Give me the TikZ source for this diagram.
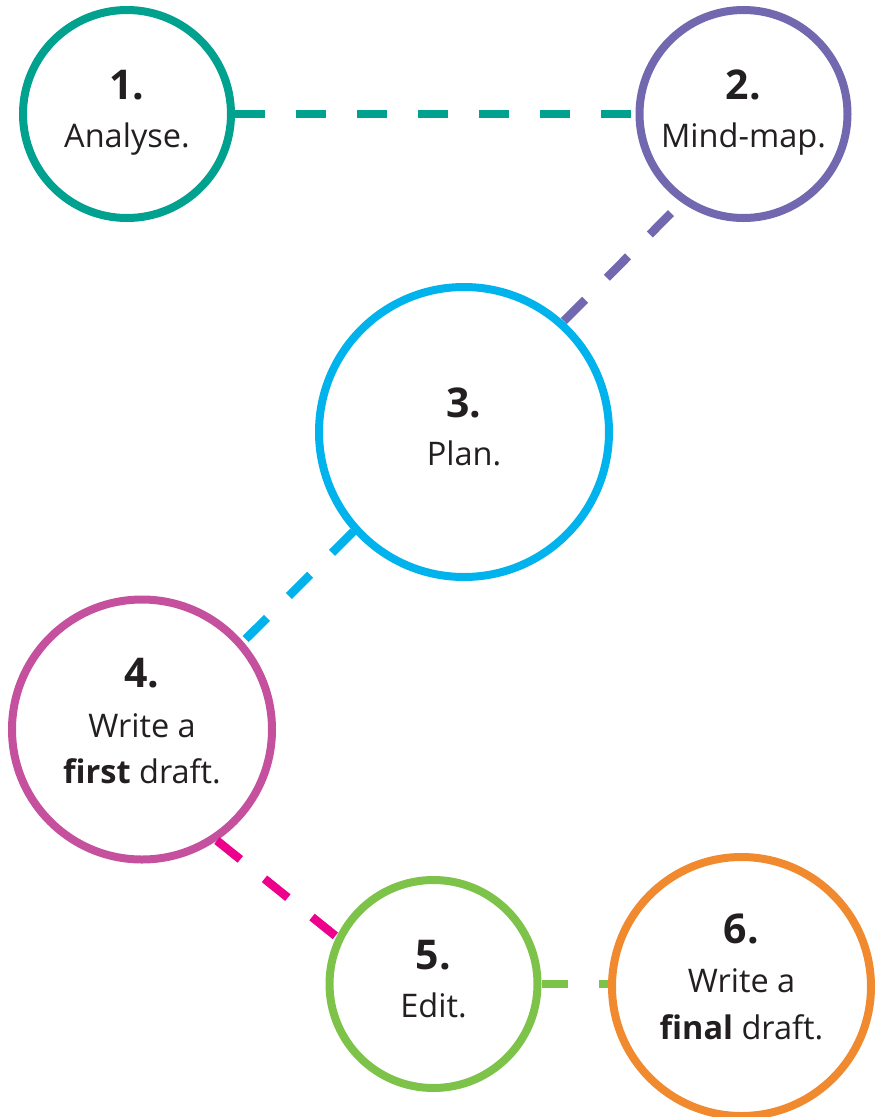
\documentclass[tikz,border=0pt]{standalone}
\usepackage{fontspec}
\setmainfont{Open Sans}
\definecolor{cteal}{HTML}{00A18E}
\definecolor{cpurple}{HTML}{7168B0}
\definecolor{ccyan}{HTML}{00B3EC}
\definecolor{cmagenta}{HTML}{C5509D}
\definecolor{cpink}{HTML}{EC008C}
\definecolor{cgreen}{HTML}{7DC349}
\definecolor{corange}{HTML}{F18A2F}
\definecolor{ink}{HTML}{231F20}
\tikzset{
  ring/.style={circle, draw=#1, line width=8pt, fill=white, inner sep=0pt},
  num/.style={anchor=base, inner sep=0pt, text=ink, font=\fontsize{41}{48}\selectfont\bfseries},
  lbl/.style={anchor=base, inner sep=0pt, text=ink, font=\fontsize{32.5}{37}\selectfont},
  link/.style={draw=#1, line width=8.5pt, dash pattern=on 30pt off 31pt},
}
\begin{document}
\begin{tikzpicture}[x=1pt,y=-1pt]
\useasboundingbox[fill=white] (0,0) rectangle (877,1117);
% circles
\node[ring=cteal, minimum size=208pt] (c1) at (127,114) {};
\node[ring=cpurple, minimum size=208pt] (c2) at (743.5,114) {};
\node[ring=ccyan, minimum size=290pt] (c3) at (464,432) {};
\node[ring=cmagenta, minimum size=260pt] (c4) at (142,729.5) {};
\node[ring=cgreen, minimum size=208pt] (c5) at (433.5,984) {};
\node[ring=corange, minimum size=259pt] (c6) at (741.5,986.5) {};
% connectors
\draw[link=cteal] (c1.east) -- (c2.west);
\draw[link=cpurple, dash phase=46pt] (c2.235.7) -- (c3.48.8);
\draw[link=ccyan] (c3.222) -- (c4.41);
\draw[link=cpink] (c4.304) -- (c5.154.5);
\draw[link=cgreen, dash phase=4pt] (c5.east) -- (c5.east -| c6.west);
% texts
\node[num] (n1) at (127,99) {1.};
\node[lbl] (t1) at (127,147) {Analyse.};
\node[num] (n2) at (743.5,99) {2.};
\node[lbl] (t2) at (743.5,147) {Mind-map.};
\node[num] (n3) at (464,417) {3.};
\node[lbl] (t3) at (464,465) {Plan.};
\node[num] (n4) at (142,687) {4.};
\node[lbl] (t4a) at (142,737) {Write a};
\node[lbl] (t4b) at (142,783) {\textbf{first} draft.};
\node[num] (n5) at (433.5,969) {5.};
\node[lbl] (t5) at (433.5,1017) {Edit.};
\node[num] (n6) at (741.5,943) {6.};
\node[lbl] (t6a) at (741.5,992) {Write a};
\node[lbl] (t6b) at (741.5,1039) {\textbf{final} draft.};
\end{tikzpicture}
\end{document}
